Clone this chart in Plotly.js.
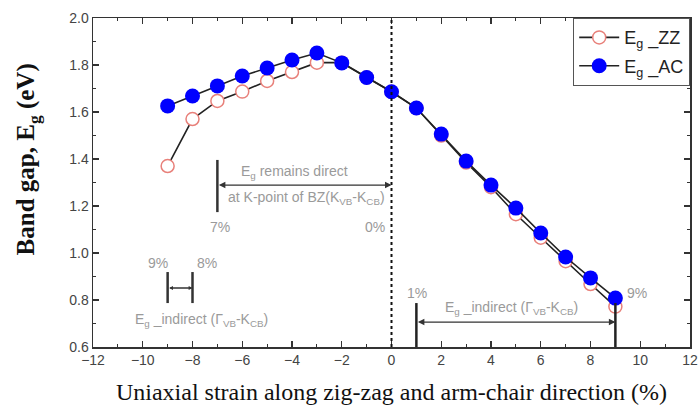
<!DOCTYPE html>
<html>
<head>
<meta charset="utf-8">
<script src="https://cdn.plot.ly/plotly-3.0.1.min.js"></script>
<style>html,body{margin:0;padding:0;background:#fff;}</style>
</head>
<body>
<div id="chart" style="width:699px;height:412px;"></div>
<script>
const strain = [-9, -8, -7, -6, -5, -4, -3, -2, -1, 0, 1, 2, 3, 4, 5, 6, 7, 8, 9];
const egZZ = [1.37, 1.57, 1.647, 1.687, 1.732, 1.77, 1.81, 1.81, 1.747, 1.686, 1.617, 1.50, 1.385, 1.28, 1.165, 1.065, 0.965, 0.868, 0.772];
const egAC = [1.626, 1.668, 1.711, 1.753, 1.787, 1.821, 1.851, 1.809, 1.747, 1.686, 1.617, 1.506, 1.391, 1.289, 1.191, 1.085, 0.983, 0.894, 0.808];
const seriesNames = ['E<sub>g</sub> _ZZ', 'E<sub>g</sub> _AC'];
const xTitle = 'Uniaxial strain along zig-zag and arm-chair direction (%)';
const yTitle = '<b>Band gap, E<sub>g</sub> (eV)</b>';

const gray = '#9a9a9a';
const annFont = {family: 'Liberation Sans, Arial', size: 14, color: gray};
const traces = [
  {
    x: strain, y: egZZ, name: seriesNames[0], mode: 'lines+markers', legendgroup: 'a',
    line: {color: '#222', width: 1.6},
    marker: {symbol: 'circle', size: 13, color: '#fff', line: {color: '#e8807a', width: 1.5}}
  },
  {
    x: strain, y: egAC, name: seriesNames[1], mode: 'lines+markers', legendgroup: 'b',
    line: {color: '#222', width: 1.6},
    marker: {symbol: 'circle', size: 15, color: '#0000ff', line: {color: '#0000ff', width: 0}}
  }
];

const axisCommon = {
  showgrid: false, zeroline: false, showline: true, linecolor: '#333', linewidth: 1.5,
  mirror: 'allticks', ticks: 'inside', ticklen: 6, tickwidth: 1.2, tickcolor: '#333',
  tickfont: {family: 'Liberation Sans, Arial', size: 14, color: '#444'}
};

const layout = {
  width: 699, height: 412,
  margin: {l: 93, r: 9, t: 18, b: 65},
  paper_bgcolor: '#fff', plot_bgcolor: '#fff',
  showlegend: true,
  legend: {
    x: 1, xanchor: 'right', y: 1, yanchor: 'top', traceorder: 'grouped', tracegroupgap: 2,
    bgcolor: '#fff', bordercolor: '#555', borderwidth: 1.2,
    font: {family: 'Liberation Sans, Arial', size: 18, color: '#222'},
    itemwidth: 40
  },
  xaxis: Object.assign({}, axisCommon, {
    range: [-12, 12], dtick: 2, tick0: -12,
    minor: {dtick: 1, ticks: 'inside', ticklen: 3, tickcolor: '#333'},
    title: {text: xTitle,
            font: {family: 'Liberation Serif, Times New Roman', size: 24, color: '#111'}, standoff: 16}
  }),
  yaxis: Object.assign({}, axisCommon, {
    range: [0.6, 2.0], dtick: 0.2, tick0: 0.6, tickformat: '.1f',
    minor: {dtick: 0.1, ticks: 'inside', ticklen: 3, tickcolor: '#333'}
  }),
  shapes: [
    {type: 'line', x0: 0, x1: 0, y0: 0.6, y1: 2.0, xref: 'x', yref: 'y', line: {color: '#111', width: 2, dash: 'dot'}},
    {type: 'line', x0: -7, x1: -7, y0: 1.174, y1: 1.396, line: {color: '#333', width: 2.5}},
    {type: 'line', x0: -9, x1: -9, y0: 0.787, y1: 0.919, line: {color: '#333', width: 2.5}},
    {type: 'line', x0: -8, x1: -8, y0: 0.787, y1: 0.919, line: {color: '#333', width: 2.5}},
    {type: 'line', x0: 1, x1: 1, y0: 0.6, y1: 0.787, line: {color: '#222', width: 2.5}},
    {type: 'line', x0: 9, x1: 9, y0: 0.6, y1: 0.787, line: {color: '#222', width: 2.5}}
  ],
  annotations: [
    {xref: 'paper', yref: 'paper', x: -0.109, y: 0.57, text: yTitle, textangle: -90, showarrow: false,
     xanchor: 'center', yanchor: 'middle',
     font: {family: 'Liberation Serif, Times New Roman', size: 25, color: '#111'}},
    {x: 0, y: 1.289, ax: -7, ay: 1.289, axref: 'x', ayref: 'y', xref: 'x', yref: 'y', text: '',
     showarrow: true, arrowhead: 2, arrowside: 'end+start', arrowsize: 1, arrowwidth: 1.3, arrowcolor: '#333'},
    {x: -8, y: 0.851, ax: -9, ay: 0.851, axref: 'x', ayref: 'y', text: '',
     showarrow: true, arrowhead: 2, arrowside: 'end+start', arrowsize: 0.6, arrowwidth: 1.3, arrowcolor: '#333'},
    {x: 9, y: 0.706, ax: 1, ay: 0.706, axref: 'x', ayref: 'y', text: '',
     showarrow: true, arrowhead: 2, arrowside: 'end+start', arrowsize: 1, arrowwidth: 1.3, arrowcolor: '#333'},
    {x: -3.9, y: 1.345, text: 'E<sub>g</sub> remains direct', showarrow: false, font: annFont},
    {x: -3.4, y: 1.234, text: 'at K-point of BZ(K<sub>VB</sub>-K<sub>CB</sub>)', showarrow: false, font: annFont},
    {x: -6.9, y: 1.11, text: '7%', showarrow: false, font: annFont},
    {x: -0.66, y: 1.11, text: '0%', showarrow: false, font: annFont},
    {x: -9.4, y: 0.957, text: '9%', showarrow: false, font: annFont},
    {x: -7.4, y: 0.957, text: '8%', showarrow: false, font: annFont},
    {x: -7.65, y: 0.715, text: 'E<sub>g</sub> _indirect (Γ<sub>VB</sub>-K<sub>CB</sub>)', showarrow: false, font: annFont},
    {x: 1.03, y: 0.83, text: '1%', showarrow: false, font: annFont},
    {x: 9.85, y: 0.83, text: '9%', showarrow: false, font: annFont},
    {x: 4.83, y: 0.766, text: 'E<sub>g</sub> _indirect (Γ<sub>VB</sub>-K<sub>CB</sub>)', showarrow: false, font: annFont}
  ]
};

Plotly.newPlot('chart', traces, layout, {displayModeBar: false, staticPlot: true});
</script>
</body>
</html>
